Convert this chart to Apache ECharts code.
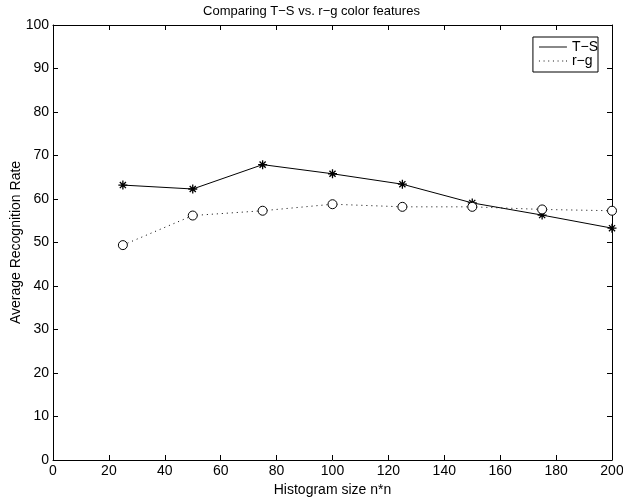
<!DOCTYPE html>
<html>
<head>
<meta charset="utf-8">
<script src="https://cdn.jsdelivr.net/npm/echarts@6/dist/echarts.min.js"></script>
<style>
  html, body { margin: 0; padding: 0; background: #fff; }
  #chart { width: 623px; height: 504px; }
</style>
</head>
<body>
<div id="chart"></div>
<script>
const histSizes = [25, 50, 75, 100, 125, 150, 175, 200];
const tsRates = [63.2, 62.3, 67.9, 65.8, 63.4, 59.1, 56.3, 53.3];
const rgRates = [49.4, 56.2, 57.3, 58.8, 58.2, 58.2, 57.6, 57.3];
const seriesNames = ["T\u2212S", "r\u2212g"];

const font = "Liberation Sans, Arial, Helvetica, sans-serif";
const asterisk = "path://M0,5L10,5M5,0L5,10M1.6,1.6L8.4,8.4M1.6,8.4L8.4,1.6";
const toPairs = ys => histSizes.map((x, i) => [x, ys[i]]);

const chart = echarts.init(document.getElementById("chart"), null, { renderer: "canvas" });

const axisBase = {
  type: "value",
  axisLine: { show: true, onZero: false, lineStyle: { color: "#000", width: 1 } },
  axisTick: { show: true, inside: true, length: 5, lineStyle: { color: "#000" } },
  splitLine: { show: false },
};

chart.setOption({
  animation: false,
  backgroundColor: "#fff",
  title: {
    text: "Comparing T\u2212S vs. r\u2212g color features",
    left: "center", top: 0,
    textStyle: { fontFamily: font, fontSize: 13, fontWeight: "normal", color: "#000" },
  },
  grid: { left: 53, right: 11, top: 25, bottom: 44, outerBoundsMode: "none" },
  legend: {
    orient: "vertical", right: 25, top: 37,
    backgroundColor: "#fff", borderColor: "#000", borderWidth: 1, borderRadius: 0,
    padding: [3, 0, 4, 6], itemGap: 0, itemWidth: 28, itemHeight: 1,
    textStyle: { fontFamily: font, fontSize: 14, color: "#000", lineHeight: 11, width: 23, overflow: "none" },
    data: [
      { name: seriesNames[0], icon: "path://M0,0h30v1h-30z" },
      { name: seriesNames[1], icon: "path://M0,0h1v1h-1zM5,0h1v1h-1zM10,0h1v1h-1zM15,0h1v1h-1zM20,0h1v1h-1zM25,0h1v1h-1zM29,0h1v1h-1z" },
    ],
    itemStyle: { color: "#000", borderWidth: 0, borderColor: "transparent" },
  },
  xAxis: [
    Object.assign({}, axisBase, {
      position: "bottom", min: 0, max: 200, interval: 20,
      axisLabel: { fontFamily: font, fontSize: 14, color: "#000", margin: 4 },
      name: "Histogram size n*n", nameLocation: "middle", nameGap: 23, nameMoveOverlap: false,
      nameTextStyle: { fontFamily: font, fontSize: 14, color: "#000" },
    }),
    Object.assign({}, axisBase, {
      position: "top", min: 0, max: 200, interval: 20, axisLabel: { show: false },
    }),
  ],
  yAxis: [
    Object.assign({}, axisBase, {
      position: "left", min: 0, max: 100, interval: 10,
      axisLabel: { fontFamily: font, fontSize: 14, color: "#000", margin: 4 },
      name: "Average Recognition Rate", nameLocation: "middle", nameGap: 30, nameMoveOverlap: false,
      nameTextStyle: { fontFamily: font, fontSize: 14, color: "#000" },
    }),
    Object.assign({}, axisBase, {
      position: "right", min: 0, max: 100, interval: 10, axisLabel: { show: false },
    }),
  ],
  series: [
    {
      name: seriesNames[0], type: "line", data: toPairs(tsRates),
      symbol: asterisk, symbolSize: 9,
      lineStyle: { color: "#000", width: 1 },
      itemStyle: { color: "transparent", borderColor: "#000", borderWidth: 1.3 },
    },
    {
      name: seriesNames[1], type: "line", data: toPairs(rgRates),
      symbol: "circle", symbolSize: 9,
      lineStyle: { color: "#000", width: 1, type: [1, 4] },
      itemStyle: { color: "#fff", borderColor: "#000", borderWidth: 1 },
    },
  ],
});
</script>
</body>
</html>
